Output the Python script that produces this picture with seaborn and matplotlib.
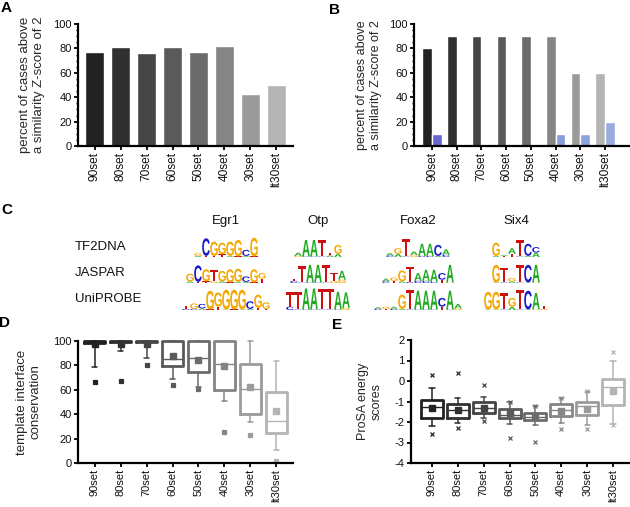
import numpy as np
import pandas as pd
import matplotlib
matplotlib.use('Agg')
import matplotlib.pyplot as plt
import seaborn as sns
from matplotlib.patheffects import AbstractPathEffect
from matplotlib.transforms import Affine2D
from matplotlib.ticker import MultipleLocator

sns.set_style('ticks')
plt.rcParams['font.family'] = ['Liberation Sans', 'DejaVu Sans']
plt.rcParams['axes.unicode_minus'] = False

# ---------------- data ----------------
sets = ['90set', '80set', '70set', '60set', '50set', '40set', '30set', 'lt30set']
pct_A = [77, 81, 76, 81, 77, 82, 43, 50]
pct_B_gray = [80, 90, 90, 90, 90, 90, 60, 60]
pct_B_blue = [10, 0, 0, 0, 0, 10, 10, 20]

grays = ['#222222', '#303030', '#454545', '#5a5a5a', '#6c6c6c', '#858585', '#9b9b9b', '#b4b4b4']
blues = ['#6767cc', '#6f76cf', '#7680d2', '#7c8ad5', '#8294d8', '#889bdb', '#8fa2dd', '#98acdf']

# panel D box statistics (template interface conservation)
D_q1 = [98.5, 98.8, 98.8, 79.5, 75.0, 60.0, 40.0, 25.0]
D_med = [100, 100, 100, 85.5, 86.0, 81.0, 60.5, 34.5]
D_q3 = [100, 100, 100, 100, 100, 100, 81.0, 58.3]
D_lo = [79.0, 91.5, 86.0, 69.0, 62.0, 50.5, 34.0, 10.7]
D_hi = [100, 100, 100, 100, 100, 100, 100, 83.4]
D_mean = [97.3, 97.3, 97.3, 88.0, 84.5, 79.5, 62.5, 42.6]
D_fliers = [[66.5], [67.0], [80.5], [64.0], [60.5], [25.5], [23.0], [1.4]]

# panel E box statistics (ProSA energy scores)
E_q1 = [-1.79, -1.79, -1.57, -1.82, -1.88, -1.70, -1.68, -1.16]
E_med = [-1.25, -1.41, -1.31, -1.66, -1.74, -1.41, -1.23, -0.31]
E_q3 = [-0.92, -1.12, -1.04, -1.35, -1.56, -1.12, -1.00, 0.09]
E_lo = [-2.20, -2.06, -1.82, -2.11, -2.16, -2.06, -2.15, -2.08]
E_hi = [-0.34, -0.84, -0.76, -1.04, -1.24, -0.84, -0.53, 1.00]
E_mean = [-1.30, -1.41, -1.30, -1.58, -1.77, -1.44, -1.35, -0.47]
E_fliers = [[0.30, -2.60], [0.39, -2.27], [-0.20, -1.93], [-1.04, -2.76],
            [-1.24, -2.99], [-0.84, -2.33], [-0.50, -2.33], [1.40, -2.13]]

# panel C sequence logos: columns of (letter, bits), stacked bottom -> top
tfs = ['Egr1', 'Otp', 'Foxa2', 'Six4']
sources = ['TF2DNA', 'JASPAR', 'UniPROBE']
egr1_tf2dna = [[('A', .1), ('G', .25)], [('T', .1), ('C', 1.6)], [('T', .1), ('G', 1.3)],
               [('T', .25), ('G', 1.05)], [('A', .1), ('G', 1.3)], [('T', .05), ('G', 1.5)],
               [('A', .1), ('C', .55)], [('T', .05), ('G', 1.7)]]
egr1_jaspar = [[('A', .15), ('G', .7)], [('T', .1), ('C', 1.5)], [('T', .15), ('G', 1.1)],
               [('G', .15), ('T', 1.0)], [('A', .15), ('G', .95)], [('T', .05), ('G', 1.2)],
               [('A', .1), ('G', 1.2)], [('A', .1), ('C', .5)], [('T', .05), ('G', 1.2)],
               [('T', .4), ('G', .5)]]
egr1_uniprobe = [[('C', .1), ('T', .3)], [('C', .1), ('G', .5)], [('A', .15), ('C', .4)],
                 [('T', .05), ('G', 1.7)], [('T', .3), ('G', 1.3)], [('A', .05), ('G', 1.8)],
                 [('T', .05), ('G', 1.8)], [('A', .05), ('G', 1.8)], [('A', .1), ('C', .7)],
                 [('T', .2), ('G', 1.2)], [('T', .1), ('G', .6)]]
otp_tf2dna = [[('G', .1), ('A', .3)], [('C', .05), ('A', 1.5)], [('C', .05), ('A', 1.5)],
              [('C', .05), ('T', 1.5)], [('A', .15), ('T', .25)], [('A', .3), ('G', .8)]]
otp_jaspar = [[('C', .2), ('T', .2)], [('C', .05), ('T', 1.5)], [('C', .05), ('A', 1.6)],
              [('C', .05), ('A', 1.6)], [('C', .05), ('T', 1.6)], [('G', .2), ('T', .7)],
              [('G', .3), ('A', .8)]]
otp_uniprobe = [[('C', .3), ('T', 1.3)], [('C', .05), ('T', 1.6)], [('C', .05), ('A', 1.9)],
                [('C', .05), ('A', 1.9)], [('C', .05), ('T', 1.9)], [('C', .05), ('T', 1.9)],
                [('C', .05), ('A', 1.6)], [('G', .2), ('A', 1.4)]]
foxa2_tf2dna = [[('C', .15), ('A', .2)], [('A', .3), ('G', .5)], [('C', .05), ('T', 1.6)],
                [('G', .2), ('A', .3)], [('C', .1), ('A', 1.1)], [('C', .1), ('A', 1.1)],
                [('A', .1), ('C', 1.0)], [('C', .2), ('A', .5)]]
foxa2_jaspar = [[('C', .15), ('A', .25)], [('T', .2), ('G', .3)], [('A', .15), ('G', 1.0)],
                [('C', .1), ('T', 1.4)], [('C', .2), ('A', .7)], [('C', .2), ('A', 1.0)],
                [('C', .1), ('A', 1.1)], [('T', .3), ('C', .6)], [('G', .05), ('A', 1.6)]]
foxa2_uniprobe = [[('C', .1), ('A', .15)], [('T', .1), ('G', .2)], [('C', .1), ('A', .2)],
                  [('A', .1), ('G', 1.3)], [('C', .05), ('T', 1.8)], [('C', .05), ('A', 1.7)],
                  [('C', .05), ('A', 1.7)], [('C', .05), ('A', 1.7)], [('T', .3), ('C', .8)],
                  [('C', .05), ('A', 1.7)], [('G', .15), ('A', .4)]]
six4_tf2dna = [[('A', .1), ('G', 1.2)], [('T', .1), ('A', .1)], [('T', .3), ('A', .5)],
               [('C', .05), ('T', 1.5)], [('A', .1), ('C', 1.1)], [('A', .4), ('C', .5)]]
six4_jaspar = [[('A', .05), ('G', 1.6)], [('C', .05), ('T', 1.3)], [('A', .15), ('G', .3)],
               [('C', .05), ('T', 1.6)], [('A', .05), ('C', 1.6)], [('G', .05), ('A', 1.6)]]
six4_uniprobe = [[('A', .05), ('G', 1.6)], [('A', .05), ('G', 1.6)], [('C', .05), ('T', 1.5)],
                 [('A', .3), ('G', .8)], [('C', .05), ('T', 1.8)], [('A', .05), ('C', 1.7)],
                 [('G', .05), ('A', 1.5)], [('G', .1), ('T', .3)]]
logo_colors = {'A': '#22aa22', 'C': '#1a1acc', 'G': '#f5a800', 'T': '#cc1111'}

# ---------------- figure ----------------
W, H = 630, 507
fig = plt.figure(figsize=(W / 100, H / 100), dpi=100)

def px_axes(left, top, right, bottom):
    return fig.add_axes([left / W, 1 - bottom / H, (right - left) / W, (bottom - top) / H])

def style_axes(ax, minor_y=None, xfs=8, yfs=8):
    for s in ['top', 'right']:
        ax.spines[s].set_visible(False)
    for s in ['left', 'bottom']:
        ax.spines[s].set_linewidth(1.6)
        ax.spines[s].set_color('black')
    ax.tick_params(axis='both', which='major', direction='out', length=3, width=1.3,
                   color='black', pad=1.5, labelcolor='#111111')
    ax.tick_params(axis='x', labelsize=xfs, labelrotation=90)
    ax.tick_params(axis='y', labelsize=yfs)
    if minor_y:
        ax.yaxis.set_minor_locator(MultipleLocator(minor_y))
        ax.tick_params(axis='y', which='minor', direction='out', length=1.8, width=1.0, color='black')
    ax.set_xlabel('')
    ax.grid(False)
    ax.set_facecolor('none')

# Panel A
axA = px_axes(78, 24, 293, 146)
dfA = pd.DataFrame({'set': sets, 'pct': pct_A})
sns.barplot(data=dfA, x='set', y='pct', hue='set', palette=grays, legend=False,
            width=0.73, saturation=1, errorbar=None, ax=axA)
axA.set_ylim(0, 100)
axA.set_yticks(range(0, 101, 20))
axA.set_xlim(-0.65, 7.65)
style_axes(axA, minor_y=5, xfs=8.6)
axA.set_ylabel('percent of cases above\na similarity Z-score of 2', fontsize=9.5, linespacing=1.15)
axA.yaxis.set_label_coords(-0.155, 0.5)

# Panel B
axB = px_axes(414, 24, 629, 146)
dfB = pd.DataFrame({'set': sets * 2,
                    'src': ['gray'] * 8 + ['blue'] * 8,
                    'pct': pct_B_gray + pct_B_blue})
sns.barplot(data=dfB, x='set', y='pct', hue='src', hue_order=['gray', 'blue'],
            palette=['#555555', '#8899dd'], legend=False, width=0.78, saturation=1,
            errorbar=None, ax=axB)
for patch, c in zip(axB.containers[0], grays):
    patch.set_facecolor(c)
for patch, c in zip(axB.containers[1], blues):
    patch.set_facecolor(c)
axB.set_ylim(0, 100)
axB.set_yticks(range(0, 101, 20))
axB.set_xlim(-0.73, 7.97)
style_axes(axB, minor_y=5, xfs=8.6)
axB.set_ylabel('percent of cases above\na similarity Z-score of 2', fontsize=9, linespacing=1.15)
axB.yaxis.set_label_coords(-0.15, 0.5)

# Box panels
def box_panel(ax, q1, med, q3, lo, hi, mean, fliers, flier_marker, width, mean_size, flier_size):
    stats = []
    for i in range(len(sets)):
        stats.append(dict(q1=q1[i], med=med[i], q3=q3[i], whislo=lo[i], whishi=hi[i],
                          mean=mean[i], fliers=np.array(fliers[i]), label=sets[i]))
    bp = ax.bxp(stats, positions=range(len(sets)), widths=width, showmeans=True,
                showfliers=True, capwidths=0.2, manage_ticks=False)
    for i, c in enumerate(grays):
        bp['boxes'][i].set(color=c, linewidth=2.0, clip_on=False)
        bp['medians'][i].set(color=c, linewidth=1.0, clip_on=False)
        for w in bp['whiskers'][2 * i:2 * i + 2]:
            w.set(color=c, linewidth=1.1, clip_on=False)
        for cp in bp['caps'][2 * i:2 * i + 2]:
            cp.set(color=c, linewidth=1.1, clip_on=False)
        bp['means'][i].set(marker='s', markerfacecolor=c, markeredgecolor=c,
                           markersize=mean_size, clip_on=False)
        bp['fliers'][i].set(marker=flier_marker, markerfacecolor=c, markeredgecolor=c,
                            markersize=flier_size, markeredgewidth=0.9, clip_on=False)
    ax.set_xticks(range(len(sets)))
    ax.set_xticklabels(sets)

axD = px_axes(78, 341, 293, 463)
box_panel(axD, D_q1, D_med, D_q3, D_lo, D_hi, D_mean, D_fliers, 's', 0.8, 4.0, 2.2)
axD.set_ylim(0, 100)
axD.set_yticks(range(0, 101, 20))
axD.set_xlim(-0.65, 7.65)
style_axes(axD)
axD.set_ylabel('template interface\nconservation', fontsize=9.5, linespacing=1.15)
axD.yaxis.set_label_coords(-0.17, 0.5)

axE = px_axes(411, 340, 629, 463)
box_panel(axE, E_q1, E_med, E_q3, E_lo, E_hi, E_mean, E_fliers, 'x', 0.85, 4.0, 3.0)
axE.set_ylim(-4, 2)
axE.set_yticks(range(-4, 3))
axE.set_xlim(-0.81, 7.62)
style_axes(axE)
axE.set_ylabel('ProSA energy\nscores', fontsize=9, linespacing=1.15)
axE.yaxis.set_label_coords(-0.13, 0.5)

# Panel C overlay (pixel coordinates) and panel letters
axC = fig.add_axes([0, 0, 1, 1], zorder=-1)
axC.set_xlim(0, W)
axC.set_ylim(H, 0)
axC.axis('off')


class FitGlyph(AbstractPathEffect):
    """Stretch a glyph so it fills a given rectangle (data coords of axC)."""
    def __init__(self, ax, x0, ybot, w, h):
        super().__init__()
        self.ax, self.x0, self.ybot, self.w, self.h = ax, x0, ybot, w, h

    def draw_path(self, renderer, gc, tpath, affine, rgbFace=None):
        ext = tpath.get_extents()
        X0, Y0 = self.ax.transData.transform((self.x0, self.ybot))
        X1, Y1 = self.ax.transData.transform((self.x0 + self.w, self.ybot - self.h))
        t = (Affine2D().translate(-ext.x0, -ext.y0)
             .scale((X1 - X0) / ext.width, (Y1 - Y0) / ext.height)
             .translate(X0, Y0))
        renderer.draw_path(gc, tpath, t, rgbFace)


def draw_logo(ax, cols, x_start, y_base, col_w=8.0, px_per_bit=11.0):
    for i, col in enumerate(cols):
        y = y_base
        for letter, bits in col:
            h = bits * px_per_bit
            x0 = x_start + i * col_w + 0.2
            t = ax.text(x0 + col_w / 2, y - h / 2, letter, fontsize=1, ha='center', va='center',
                        color=logo_colors[letter], fontweight='bold')
            t.set_path_effects([FitGlyph(ax, x0, y, col_w - 0.4, h)])
            y -= h


logos = {('Egr1', 'TF2DNA'): egr1_tf2dna, ('Egr1', 'JASPAR'): egr1_jaspar,
         ('Egr1', 'UniPROBE'): egr1_uniprobe,
         ('Otp', 'TF2DNA'): otp_tf2dna, ('Otp', 'JASPAR'): otp_jaspar,
         ('Otp', 'UniPROBE'): otp_uniprobe,
         ('Foxa2', 'TF2DNA'): foxa2_tf2dna, ('Foxa2', 'JASPAR'): foxa2_jaspar,
         ('Foxa2', 'UniPROBE'): foxa2_uniprobe,
         ('Six4', 'TF2DNA'): six4_tf2dna, ('Six4', 'JASPAR'): six4_jaspar,
         ('Six4', 'UniPROBE'): six4_uniprobe}
tf_centers = [226, 318, 418, 516]
row_label_y = [247, 273, 299]
row_base_y = [257, 283, 310]

for tf, cx in zip(tfs, tf_centers):
    axC.text(cx, 221, tf, ha='center', va='center', fontsize=9.5, color='#111111')
for src, ly, by in zip(sources, row_label_y, row_base_y):
    axC.text(75, ly, src, ha='left', va='center', fontsize=9.5, color='#111111')
    for tf, cx in zip(tfs, tf_centers):
        cols = logos[(tf, src)]
        draw_logo(axC, cols, cx - len(cols) * 8.0 / 2, by)

for lab, x, y in [('A', 6, 8), ('B', 334, 10), ('C', 7, 210), ('D', 5, 323), ('E', 337, 325)]:
    axC.text(x, y, lab, ha='center', va='center', fontsize=11, fontweight='heavy', color='black')

fig.savefig('out.png', dpi=100)
